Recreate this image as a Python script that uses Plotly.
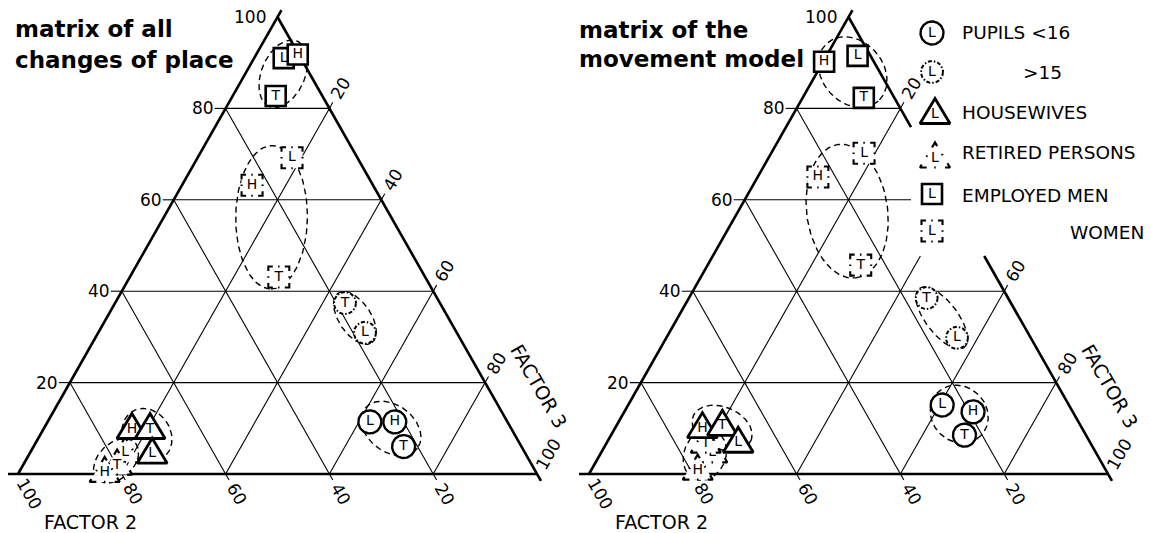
import numpy as np
import plotly.graph_objects as go

# ------------------------------------------------------------------ data
# Each entry: (study area, factor 1 %, factor 2 %, factor 3 %)

# matrix of all changes of place
ALL_PUPILS_U16 = [("L", 11.4, 26.5, 62.1), ("H", 11.4, 21.7, 66.9), ("T", 6.0, 22.7, 71.3)]
ALL_PUPILS_O15 = [("T", 37.4, 18.3, 44.3), ("L", 30.9, 17.7, 51.4)]
ALL_HOUSEWIVES = [("H", 10.5, 72.8, 16.7), ("T", 10.5, 69.3, 20.2), ("L", 5.1, 71.6, 23.3)]
ALL_RETIRED = [("L", 5.3, 76.7, 18.0), ("T", 2.6, 79.6, 17.8), ("H", 1.0, 82.8, 16.2)]
ALL_EMPLOYED_MEN = [("L", 91.0, 3.3, 5.7), ("H", 91.8, 0.2, 8.0), ("T", 82.7, 9.0, 8.3)]
ALL_EMPLOYED_WOMEN = [("L", 69.2, 12.6, 18.2), ("H", 63.2, 23.3, 13.5), ("T", 43.1, 28.2, 28.7)]

# matrix of the movement model
MOV_PUPILS_U16 = [("L", 15.1, 24.4, 60.5), ("H", 13.6, 19.2, 67.2), ("T", 8.5, 23.4, 68.1)]
MOV_PUPILS_O15 = [("T", 38.5, 15.7, 45.8), ("L", 29.8, 14.2, 56.0)]
MOV_HOUSEWIVES = [("H", 10.7, 72.8, 16.5), ("T", 11.2, 68.7, 20.1), ("L", 7.5, 67.5, 25.0)]
MOV_RETIRED = [("L", 5.3, 73.6, 21.1), ("T", 7.4, 73.8, 18.8), ("H", 1.5, 78.3, 20.2)]
MOV_EMPLOYED_MEN = [("H", 90.2, 9.6, 0.2), ("L", 91.5, 2.5, 6.0), ("T", 82.3, 5.9, 11.8)]
MOV_EMPLOYED_WOMEN = [("L", 70.2, 11.9, 17.9), ("H", 65.0, 23.4, 11.6), ("T", 45.7, 24.8, 29.5)]

AXIS_TICKS = [20, 40, 60, 80, 100]
GRID_STEPS = [20, 40, 60, 80]
FACTOR_2_TITLE = "FACTOR 2"
FACTOR_3_TITLE = "FACTOR 3"
CHART_TITLES = {
    "all": ["matrix of all", "changes of place"],
    "mov": ["matrix of the", "movement model"],
}
LEGEND_GROUPS = ["pupils_u16", "pupils_o15", "housewives", "retired", "men", "women"]
LEGEND_LABELS = ["PUPILS &lt;16", "&gt;15", "HOUSEWIVES", "RETIRED PERSONS", "EMPLOYED MEN", "WOMEN"]

DATA = {
    "all": {
        "pupils_u16": ALL_PUPILS_U16, "pupils_o15": ALL_PUPILS_O15,
        "housewives": ALL_HOUSEWIVES, "retired": ALL_RETIRED,
        "men": ALL_EMPLOYED_MEN, "women": ALL_EMPLOYED_WOMEN,
    },
    "mov": {
        "pupils_u16": MOV_PUPILS_U16, "pupils_o15": MOV_PUPILS_O15,
        "housewives": MOV_HOUSEWIVES, "retired": MOV_RETIRED,
        "men": MOV_EMPLOYED_MEN, "women": MOV_EMPLOYED_WOMEN,
    },
}
DRAW_ORDER = ["retired", "housewives", "women", "men", "pupils_o15", "pupils_u16"]

# ------------------------------------------------------------------ styling
W, H = 1151, 533
SX, SY = 5.19, 4.57          # pixels per percent along the base / per percent of factor 1
BASE_Y = 474                 # pixel row of the triangle base
FONT = "DejaVu Sans"
INK = "black"

FRAMES = {
    "all": dict(x0=18, xa="x", ya="y", dom=(0.0, 0.5),
                title_x=13, title_y=(29, 60), mask=None),
    "mov": dict(x0=589, xa="x2", ya="y2", dom=(0.5, 1.0),
                title_x=577, title_y=(30, 59), mask=(911, 256)),
}

SYMBOLS = {
    "pupils_u16": ("circle", False),
    "pupils_o15": ("circle", True),
    "housewives": ("triangle", False),
    "retired": ("triangle", True),
    "men": ("square", False),
    "women": ("square", True),
}

LEG_SYMBOL_POS = [(932, 33), (932, 72), (935, 111), (935, 155), (932, 194), (932, 231)]
LEG_TEXT_POS = [(960, 33, "left"), (1064, 72, "right"), (960, 113, "left"),
                (960, 152, "left"), (960, 196, "left"), (1146, 232, "right")]

EDGE_LEN = np.hypot(259.5, 457.0)
U_B = np.array([259.5, 457.0]) / EDGE_LEN    # down-right (pixel, y down)
U_C = np.array([259.5, -457.0]) / EDGE_LEN   # up-right


def tern(f1, f2, f3):
    s = f1 + f2 + f3
    a, c = f1 / s * 100.0, f3 / s * 100.0
    return c + a / 2.0, a


def shift(pt, dx, dy):
    """Move a point given in percent units by a pixel offset (y down)."""
    return pt[0] + dx / SX, pt[1] - dy / SY


def px_to_units(fr, px, py):
    return (px - fr["x0"]) / SX, (BASE_Y - py) / SY


fig = go.Figure()


def add_path(fr, xs, ys, width, dash="solid", fill=False):
    fig.add_trace(go.Scatter(
        x=list(xs), y=list(ys), mode="lines", xaxis=fr["xa"], yaxis=fr["ya"],
        line=dict(color=INK, width=width, dash=dash),
        fill="toself" if fill else "none", fillcolor="white",
        hoverinfo="skip", showlegend=False))


def clip_outside(p0, p1, mask_u):
    """Parts of segment p0-p1 lying outside the region x>=mx and y>=my."""
    if mask_u is None:
        return [(p0, p1)]
    lo, hi = 0.0, 1.0
    for k, m in enumerate(mask_u):
        v0, v1 = p0[k], p1[k]
        if v1 == v0:
            if v0 < m:
                return [(p0, p1)]
            continue
        t = (m - v0) / (v1 - v0)
        if v1 > v0:
            lo = max(lo, t)
        else:
            hi = min(hi, t)
    if lo >= hi:
        return [(p0, p1)]
    lerp = lambda t: (p0[0] + t * (p1[0] - p0[0]), p0[1] + t * (p1[1] - p0[1]))
    parts = []
    if lo > 0:
        parts.append((p0, lerp(lo)))
    if hi < 1:
        parts.append((lerp(hi), p1))
    return parts


def inside_mask(pt, mask_u):
    return mask_u is not None and pt[0] >= mask_u[0] and pt[1] >= mask_u[1]


def add_segments(fr, segs, width, mask_u):
    xs, ys = [], []
    for p0, p1 in segs:
        for q0, q1 in clip_outside(p0, p1, mask_u):
            xs += [q0[0], q1[0], None]
            ys += [q0[1], q1[1], None]
    add_path(fr, xs, ys, width)


def symbol_outline(shape, dashed):
    """Outline of a plot symbol as pixel offsets (y down), its dash and width."""
    if shape == "circle":
        r = 11.0 if dashed else 11.5
        t = np.linspace(0, 2 * np.pi, 73)
        return (r * np.cos(t), r * np.sin(t),
                "4px,2px,1.5px,2px" if dashed else "solid", 2.0 if dashed else 2.4)
    if shape == "square":
        s = 21.0 if dashed else 20.0
        h = s / 2
        pts = np.array([(-0.75, -h), (h, -h), (h, h), (-h, h), (-h, -h), (-0.75, -h)])
        d = 9.0
        g = h - 0.75 - d / 2
        dash = f"1.5px,{g:.2f}px,{d:.0f}px,{g:.2f}px" if dashed else "solid"
        return pts[:, 0], pts[:, 1], dash, 2.1 if dashed else 2.6
    w, ht = 30.0, 25.0
    pts = np.array([(-0.75, ht / 2), (w / 2, ht / 2), (0, -ht / 2),
                    (-w / 2, ht / 2), (-0.75, ht / 2)])
    d = 10.0
    g = w / 2 + 0.75 - 1.5 - d / 2
    dash = f"1.5px,{g:.2f}px,{d:.0f}px,{g:.2f}px" if dashed else "solid"
    return pts[:, 0], pts[:, 1], dash, 2.2 if dashed else 2.8


def add_symbol(fr, center, shape, dashed, letter):
    dx, dy, dash, width = symbol_outline(shape, dashed)
    add_path(fr, center[0] + dx / SX, center[1] - dy / SY, width, dash, fill=True)
    ty = center[1] - (3.0 / SY if shape == "triangle" else 0.0)
    fig.add_trace(go.Scatter(
        x=[center[0]], y=[ty], mode="text", text=[letter], xaxis=fr["xa"], yaxis=fr["ya"],
        textposition="middle center", textfont=dict(family=FONT, size=14, color=INK),
        hoverinfo="skip", showlegend=False))


def group_ellipse(xu, yu, pad_major=12.0, pad_minor=16.0):
    P = np.column_stack([np.asarray(xu) * SX, -np.asarray(yu) * SY])
    c = P.mean(axis=0)
    Q = P - c
    _, _, vt = np.linalg.svd(Q)
    major, minor = vt[0], vt[1]
    pm, pn = Q @ major, Q @ minor
    c = c + major * (pm.max() + pm.min()) / 2 + minor * (pn.max() + pn.min()) / 2
    A = (pm.max() - pm.min()) / 2 + pad_major
    B = (pn.max() - pn.min()) / 2 + pad_minor
    t = np.linspace(0, 2 * np.pi, 121)
    pts = c + np.outer(A * np.cos(t), major) + np.outer(B * np.sin(t), minor)
    return pts[:, 0] / SX, -pts[:, 1] / SY


annotations = []


def label(fr, pt, text, size, xshift=0, yshift=0, angle=0, xanchor="center"):
    annotations.append(dict(
        x=pt[0], y=pt[1], xref=fr["xa"], yref=fr["ya"], text=text, showarrow=False,
        xanchor=xanchor, yanchor="middle", xshift=xshift, yshift=yshift, textangle=angle,
        font=dict(family=FONT, size=size, color=INK)))


for key, fr in FRAMES.items():
    mask_u = None
    if fr["mask"] is not None:
        mask_u = px_to_units(fr, *fr["mask"])

    # frame edges, each slightly overrunning one corner
    bl, top, br = tern(0, 100, 0), tern(100, 0, 0), tern(0, 0, 100)
    edges = [
        (bl, shift(top, *(8 * U_C))),
        (top, shift(br, *(8 * U_B))),
        (br, shift(bl, -10, 0)),
    ]
    add_segments(fr, edges, 2.6, mask_u)

    # triangular grid
    grid = []
    for k in GRID_STEPS:
        grid.append((tern(k, 100 - k, 0), tern(k, 0, 100 - k)))
        grid.append((tern(100 - k, k, 0), tern(0, k, 100 - k)))
        grid.append((tern(100 - k, 0, k), tern(0, 100 - k, k)))
    add_segments(fr, grid, 1.1, mask_u)

    # ticks and tick labels
    ticks = []
    for k in AXIS_TICKS:
        pa = tern(k, 100 - k, 0)
        pb = tern(0, k, 100 - k)
        pc = tern(100 - k, 0, k)
        if k < 100:
            ticks.append((pa, shift(pa, -11, 0)))
            ticks.append((pb, shift(pb, *(7 * U_B))))
        label(fr, pa, str(k), 17, xshift=-10, xanchor="right")
        label(fr, pb, str(k), 17, xshift=23 * U_B[0], yshift=-23 * U_B[1], angle=60)
        if not inside_mask(pc, mask_u):
            if k < 100:
                ticks.append((pc, shift(pc, *(7 * U_C))))
            label(fr, pc, str(k), 17, xshift=23 * U_C[0], yshift=-23 * U_C[1], angle=-60)
    add_segments(fr, ticks, 1.1, None)

    # axis titles
    label(fr, bl, FACTOR_2_TITLE, 19, xshift=24, yshift=-48, xanchor="left")
    label(fr, tern(20, 0, 80), FACTOR_3_TITLE, 19, xshift=54, yshift=-3, angle=60)

    # chart title
    for line, ty in zip(CHART_TITLES[key], fr["title_y"]):
        annotations.append(dict(
            x=fr["title_x"] / W, y=1 - ty / H, xref="paper", yref="paper", text=line,
            showarrow=False, xanchor="left", yanchor="middle",
            font=dict(family=FONT, size=23, color=INK, weight="bold")))

    # dashed outlines around each group
    groups = DATA[key]
    for g in DRAW_ORDER:
        pts = [tern(f1, f2, f3) for _, f1, f2, f3 in groups[g]]
        ex, ey = group_ellipse([p[0] for p in pts], [p[1] for p in pts])
        add_path(fr, ex, ey, 1.4, dash="6px,4px")

    # group symbols
    for g in DRAW_ORDER:
        shape, dashed = SYMBOLS[g]
        for letter, f1, f2, f3 in groups[g]:
            add_symbol(fr, tern(f1, f2, f3), shape, dashed, letter)

# legend beside the movement-model triangle
fr = FRAMES["mov"]
for g, (sx, sy), (tx, ty, anchor), text in zip(LEGEND_GROUPS, LEG_SYMBOL_POS,
                                                LEG_TEXT_POS, LEGEND_LABELS):
    shape, dashed = SYMBOLS[g]
    add_symbol(fr, px_to_units(fr, sx, sy), shape, dashed, "L")
    annotations.append(dict(
        x=tx / W, y=1 - ty / H, xref="paper", yref="paper", text=text, showarrow=False,
        xanchor=anchor, yanchor="middle", font=dict(family=FONT, size=18.5, color=INK)))

# axes: percent units placed so that both triangles sit at fixed pixel positions
layout_axes = {}
for key, fr in FRAMES.items():
    d0, d1 = fr["dom"][0] * W, fr["dom"][1] * W
    xname = "xaxis" if fr["xa"] == "x" else "xaxis2"
    yname = "yaxis" if fr["ya"] == "y" else "yaxis2"
    layout_axes[xname] = dict(domain=list(fr["dom"]), range=[(d0 - fr["x0"]) / SX, (d1 - fr["x0"]) / SX],
                              visible=False, fixedrange=True, anchor=fr["ya"])
    layout_axes[yname] = dict(domain=[0, 1], range=[(BASE_Y - H) / SY, BASE_Y / SY],
                              visible=False, fixedrange=True, anchor=fr["xa"])

fig.update_layout(
    width=W, height=H, margin=dict(l=0, r=0, t=0, b=0),
    paper_bgcolor="white", plot_bgcolor="rgba(0,0,0,0)",
    showlegend=False, annotations=annotations, **layout_axes)

fig.write_html("out.html")
